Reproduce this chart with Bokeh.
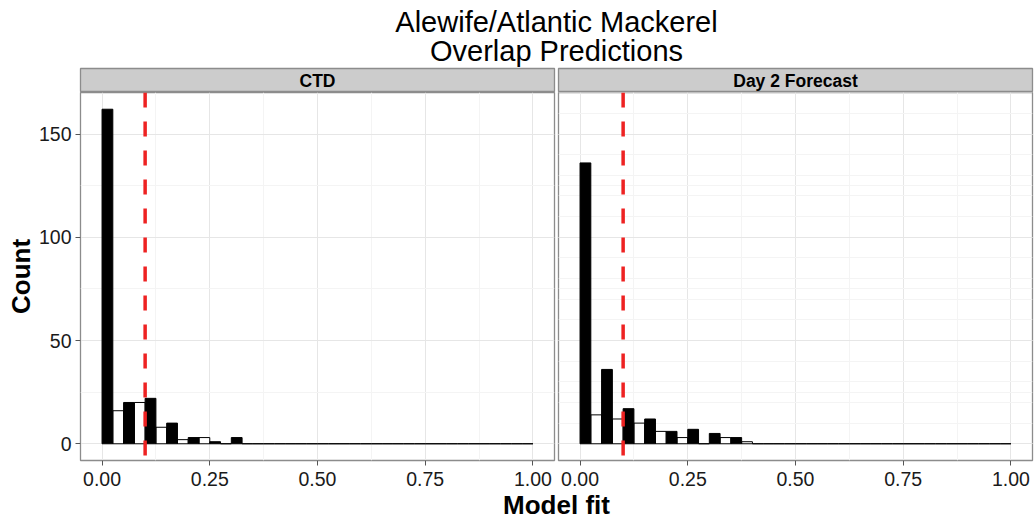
from bokeh.plotting import figure
from bokeh.layouts import column, row
from bokeh.models import Range1d, FixedTicker, Span, Grid, ColumnDataSource
from bokeh.embed import file_html
from bokeh.resources import INLINE
from bokeh.core.properties import value

# ---------------- data ----------------
title_lines = ["Alewife/Atlantic Mackerel", "Overlap Predictions"]
panel_names = ["CTD", "Day 2 Forecast"]
x_label = "Model fit"
y_label = "Count"
bin_width = 0.05
bin_starts = [0.00, 0.05, 0.10, 0.15, 0.20, 0.25, 0.30, 0.35, 0.40, 0.45,
              0.50, 0.55, 0.60, 0.65, 0.70, 0.75, 0.80, 0.85, 0.90, 0.95]
ctd_black = [162, 20, 22, 10, 3, 1, 3, 0, 0, 0, 0, 0, 0, 0, 0, 0, 0, 0, 0, 0]
ctd_white = [16, 20, 8, 2, 3, 0, 0, 0, 0, 0, 0, 0, 0, 0, 0, 0, 0, 0, 0, 0]
day2_black = [136, 36, 17, 12, 6, 7, 5, 3, 0, 0, 0, 0, 0, 0, 0, 0, 0, 0, 0, 0]
day2_white = [14, 12, 10, 6, 3, 0, 3, 1, 0, 0, 0, 0, 0, 0, 0, 0, 0, 0, 0, 0]
threshold = 0.1
x_ticks = [0.0, 0.25, 0.5, 0.75, 1.0]
x_minor = [0.125, 0.375, 0.625, 0.875]
x_tick_labels = ["0.00", "0.25", "0.50", "0.75", "1.00"]
y_ticks = [0, 50, 100, 150]
y_minor = [25, 75, 125]

FONT = "Liberation Sans"
W_TOTAL = 1036
FRAME_W = 474
FRAME_H = 370
LEFT_B = 80
GAP = 2
RIGHT_B = 4
BOTTOM_B = 26
TITLE_H = 67
STRIP_H = 25
XL_H = 32

ymax = max(ctd_black + ctd_white + day2_black + day2_white)
yr = Range1d(-0.05 * ymax, 1.05 * ymax)
xmin, xmax = bin_starts[0], bin_starts[-1] + bin_width
xpad = 0.05 * (xmax - xmin)


def text_fig(w, h, texts, size, bold=False):
    f = figure(width=w, height=h, output_backend="svg", toolbar_location=None,
               title=None,
               x_range=Range1d(0, w), y_range=Range1d(h, 0),
               x_axis_location=None, y_axis_location=None,
               min_border=0)
    f.outline_line_color = None
    f.grid.visible = False
    for (tx, ty, t) in texts:
        f.text(x=[tx], y=[ty], text=[t], text_font=value(FONT),
               text_font_size=size, text_align="center",
               text_baseline="middle", text_color="black",
               text_font_style="bold" if bold else "normal")
    return f


center_x = (LEFT_B + (LEFT_B + FRAME_W + GAP + GAP + FRAME_W)) / 2

title_fig = text_fig(W_TOTAL, TITLE_H,
                     [(center_x, 21.3, title_lines[0]),
                      (center_x, 50.0, title_lines[1])], "29px")


def strip_fig(name, w, left, right):
    f = figure(width=w, height=STRIP_H, output_backend="svg", toolbar_location=None,
               title=None,
               x_range=Range1d(0, 1), y_range=Range1d(0, 1),
               x_axis_location=None, y_axis_location=None,
               min_border_left=left, min_border_right=right,
               min_border_top=1, min_border_bottom=0)
    f.grid.visible = False
    f.background_fill_color = "#CCCCCC"
    f.outline_line_color = "#8C8C8C"
    f.outline_line_width = 1.3
    f.text(x=[0.5], y=[0.5], text=[name], text_font=value(FONT),
           text_font_size="17.5px", text_font_style="bold",
           text_align="center", text_baseline="middle", text_color="black")
    return f


def panel(black, white, w, left, right, show_y):
    f = figure(width=w, height=FRAME_H + BOTTOM_B, output_backend="svg",
               toolbar_location=None, title=None,
               x_range=Range1d(xmin - xpad, xmax + xpad), y_range=yr,
               y_axis_location="left" if show_y else None,
               min_border_left=left, min_border_right=right,
               min_border_top=0, min_border_bottom=BOTTOM_B)
    f.background_fill_color = "white"
    f.outline_line_color = "#8C8C8C"
    f.outline_line_width = 1.3

    src = ColumnDataSource(dict(
        left=bin_starts,
        mid=[b + bin_width / 2 for b in bin_starts],
        right=[b + bin_width for b in bin_starts],
        black=black, white=white))
    f.quad(left="mid", right="right", bottom=0, top="white", source=src,
           fill_color="white", line_color="black", line_width=1)
    f.quad(left="left", right="mid", bottom=0, top="black", source=src,
           fill_color="black", line_color="black", line_width=1)

    f.add_layout(Span(location=threshold, dimension="height",
                      line_color="#EE2222", line_width=3.5, line_dash="15 14"))

    xt = FixedTicker(ticks=x_ticks, minor_ticks=x_minor)
    f.xaxis.ticker = xt
    f.xaxis.major_label_overrides = {t: l for t, l in zip(x_ticks, x_tick_labels)}
    f.xgrid.ticker = xt
    yt = FixedTicker(ticks=y_ticks, minor_ticks=y_minor)
    if show_y:
        f.yaxis.ticker = yt
        f.ygrid.ticker = yt
        f.yaxis.axis_label = y_label
        f.yaxis.axis_label_text_font = FONT
        f.yaxis.axis_label_text_font_size = "26px"
        f.yaxis.axis_label_text_font_style = "bold"
        f.yaxis.axis_label_text_color = "black"
        f.yaxis.axis_label_standoff = 0
    else:
        f.add_layout(Grid(dimension=1, ticker=yt))
    for ax in f.axis:
        ax.axis_line_color = None
        ax.major_tick_in = 0
        ax.major_tick_out = 5
        ax.major_tick_line_color = "#555555"
        ax.minor_tick_line_color = None
        ax.major_label_text_font = FONT
        ax.major_label_text_font_size = "19.5px"
        ax.major_label_text_color = "#1A1A1A"
        ax.major_label_standoff = 4
    f.xaxis.major_label_standoff = 6
    for g in f.grid:
        g.grid_line_color = "#E6E6E6"
        g.grid_line_width = 1
        g.minor_grid_line_color = "#F4F4F4"
        g.minor_grid_line_width = 1
    return f


w1 = LEFT_B + FRAME_W + GAP
w2 = GAP + FRAME_W + RIGHT_B
s1 = strip_fig(panel_names[0], w1, LEFT_B, GAP)
s2 = strip_fig(panel_names[1], w2, GAP, RIGHT_B)
p1 = panel(ctd_black, ctd_white, w1, LEFT_B, GAP, True)
p2 = panel(day2_black, day2_white, w2, GAP, RIGHT_B, False)

xlab_fig = text_fig(W_TOTAL, XL_H, [(center_x, 16, x_label)], "26px", bold=True)

layout = column(title_fig, row(s1, s2), row(p1, p2), xlab_fig)
open("out.html", "w").write(file_html(layout, INLINE))
